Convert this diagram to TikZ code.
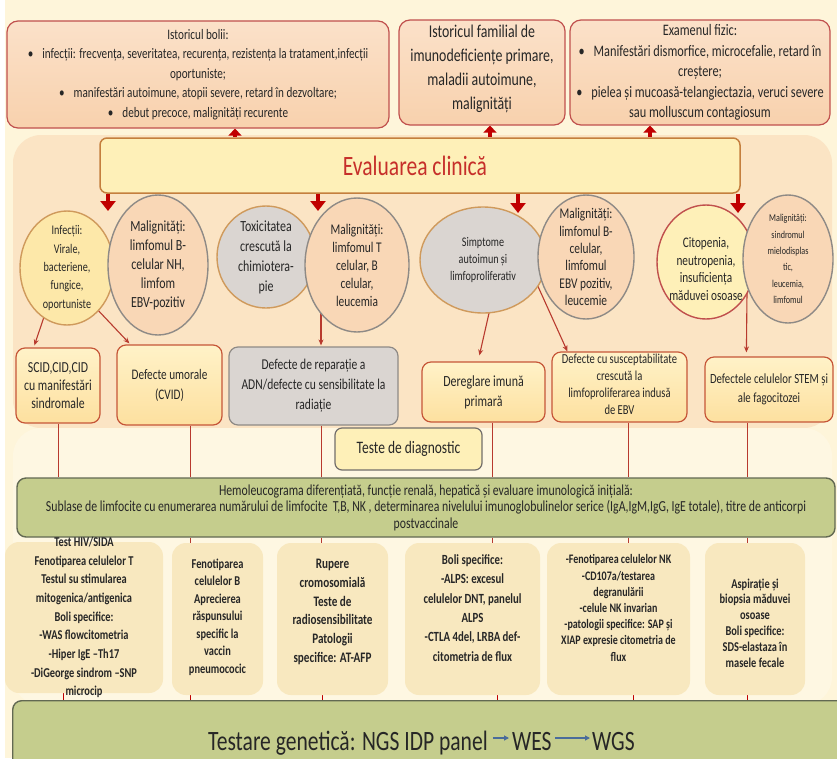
\documentclass[tikz,border=0pt]{standalone}
\usepackage{fontspec}
\setmainfont{Carlito}[FakeStretch=0.77]
\usetikzlibrary{shapes.geometric,arrows.meta,calc}
\pgfdeclarelayer{bg}
\pgfdeclarelayer{links}
\pgfsetlayers{bg,links,main}

\definecolor{cream}{HTML}{FEF5DA}
\definecolor{peachbg}{HTML}{FBE4C4}
\definecolor{lowbg}{HTML}{FEF7E2}
\definecolor{topfill}{HTML}{F9D7B6}
\definecolor{toptop}{HTML}{FBE1C9}
\definecolor{topbot}{HTML}{F8D1AD}
\definecolor{topline}{HTML}{C0504D}
\definecolor{evalfill}{HTML}{FEF0B8}
\definecolor{evalline}{HTML}{C47F3E}
\definecolor{evaltext}{HTML}{C62F2A}
\definecolor{arrowred}{HTML}{C00000}
\definecolor{linkred}{HTML}{B83A2E}
\definecolor{yelfill}{HTML}{FDE8A9}
\definecolor{deftop}{HTML}{FFF2C8}
\definecolor{defbot}{HTML}{FDE09F}
\definecolor{tanline}{HTML}{CF9A5C}
\definecolor{greyfill}{HTML}{DAD5D1}
\definecolor{greyline}{HTML}{8E8A86}
\definecolor{defline}{HTML}{C65638}
\definecolor{olive}{HTML}{C5CD8D}
\definecolor{oliveline}{HTML}{626952}
\definecolor{colfill}{HTML}{F8E8BF}
\definecolor{ink}{HTML}{262626}
\definecolor{seqblue}{HTML}{4A6C9B}

\newcommand\fsz[2]{\fontsize{#1}{#2}\selectfont}

\begin{document}
\begin{tikzpicture}[x=1pt,y=-1pt,
  txt/.style={text=ink, align=center, inner sep=0pt},
  topbox/.style={draw=topline, top color=toptop, bottom color=topbot, line width=1.2pt, rounded corners=11pt, inner sep=0pt},
  evalbox/.style={draw=evalline, fill=evalfill, line width=1.5pt, rounded corners=7pt, inner sep=0pt},
  ell/.style={ellipse, inner sep=0pt, line width=1.4pt},
  ellyel/.style={ell, draw=tanline, fill=yelfill},
  ellpeach/.style={ell, draw=greyline, fill=topfill},
  ellgrey/.style={ell, draw=tanline, fill=greyfill},
  ellred/.style={ell, draw=topline, fill=evalfill},
  defbox/.style={draw=defline, top color=deftop, bottom color=defbot, line width=1.2pt, rounded corners=9pt, inner sep=0pt},
  defgrey/.style={draw=greyline, fill=greyfill, line width=1.2pt, rounded corners=9pt, inner sep=0pt},
  testbox/.style={draw=greyline!80!black, fill=evalfill, line width=1.2pt, rounded corners=7pt, inner sep=0pt},
  greenbox/.style={draw=oliveline, fill=olive, line width=1.4pt, rounded corners=9pt, inner sep=0pt},
  colbox/.style={fill=colfill, rounded corners=14pt, inner sep=0pt},
  bigup/.style={draw=arrowred, line width=4pt, -{Triangle[width=13pt,length=7pt]}},
  bigdown/.style={draw=arrowred, line width=4.5pt, -{Triangle[width=15pt,length=10pt]}},
  link/.style={draw=linkred, line width=1.1pt, -{Stealth[length=6pt,width=5pt]}},
  rail/.style={draw=linkred, line width=1pt},
  tick/.style={draw=arrowred, line width=1pt, -{Triangle[width=5pt,length=6pt]}},
  seq/.style={draw=seqblue, line width=1.1pt, -{Triangle[width=5pt,length=5pt]}}
]
\useasboundingbox (0,0) rectangle (837,758);

% ---------- anamnesis and examination ----------
\node[topbox, minimum width=382pt, minimum height=107pt,
  label={[txt, font=\fsz{14.5}{19.5}]center:{Istoricul bolii:\\\textbullet\hspace{9pt}infecții: frecvența, severitatea, recurența, rezistența la tratament,infecții\\oportuniste;\\\textbullet\hspace{9pt}manifestări autoimune, atopii severe, retard în dezvoltare;\\\textbullet\hspace{9pt}debut precoce, malignități recurente}}]
  (top1) at (198,74.5) {};
\node[topbox, minimum width=166pt, minimum height=105pt,
  label={[txt, font=\fsz{18}{24}, yshift=4pt]center:{Istoricul familial de\\imunodeficiențe primare,\\maladii autoimune,\\malignități}}]
  (top2) at (482,72.5) {};
\node[topbox, minimum width=260pt, minimum height=105pt,
  label={[txt, font=\fsz{16}{20.5}]center:{Examenul fizic:\\\textbullet\hspace{9pt}Manifestări dismorfice, microcefalie, retard în\\creștere;\\\textbullet\hspace{9pt}pielea și mucoasă-telangiectazia, veruci severe\\sau molluscum contagiosum}}]
  (top3) at (700,72.5) {};

% ---------- clinical evaluation ----------
\node[evalbox, minimum width=640pt, minimum height=55pt,
  label={[txt, text=evaltext, font=\fsz{28}{30}, xshift=-5pt]center:{Evaluarea clinică}}]
  (eval) at (420,165.5) {};

% ---------- clinical presentations ----------
\node[ellyel, minimum width=94pt, minimum height=114pt,
  label={[txt, font=\fsz{13.2}{18.3}]center:{Infecții:\\Virale,\\bacteriene,\\fungice,\\oportuniste}}]
  (e1) at (67,268) {};
\node[ellpeach, minimum width=100pt, minimum height=140pt,
  label={[txt, font=\fsz{15.5}{19}]center:{Malignități:\\limfomul B-\\celular NH,\\limfom\\EBV-pozitiv}}]
  (e2) at (158,265) {};
\node[ellgrey, minimum width=98pt, minimum height=102pt,
  label={[txt, font=\fsz{15.5}{20}]center:{Toxicitatea\\crescută la\\chimiotera-\\pie}}]
  (e3) at (266,257) {};
\node[ellpeach, minimum width=104pt, minimum height=134pt,
  label={[txt, font=\fsz{14.8}{18}]center:{Malignități:\\limfomul T\\celular, B\\celular,\\leucemia}}]
  (e4) at (357,265) {};
\node[ellgrey, minimum width=126pt, minimum height=106pt,
  label={[txt, font=\fsz{13.2}{17}]center:{Simptome\\autoimun și\\limfoproliferativ}}]
  (e5) at (483,260) {};
\node[ellpeach, minimum width=96pt, minimum height=124pt,
  label={[txt, font=\fsz{14.8}{17.3}]center:{Malignități:\\limfomul B-\\celular,\\limfomul\\EBV pozitiv,\\leucemie}}]
  (e6) at (586,257) {};
\node[ellred, minimum width=98pt, minimum height=114pt,
  label={[txt, font=\fsz{14.6}{17.5}, yshift=-7pt]center:{Citopenia,\\neutropenia,\\insuficiența\\măduvei osoase}}]
  (e7) at (706,262) {};
\node[ellpeach, minimum width=90pt, minimum height=128pt,
  label={[txt, font=\fsz{10.5}{16.3}]center:{Malignități:\\sindromul\\mielodisplas\\tic,\\leucemia,\\limfomul}}]
  (e8) at (788,259) {};

% ---------- defect groups ----------
\node[defbox, minimum width=84pt, minimum height=75pt,
  label={[txt, font=\fsz{15.3}{18}]center:{SCID,CID,CID\\cu manifestări\\sindromale}}]
  (d1) at (58,385.5) {};
\node[defbox, minimum width=105pt, minimum height=80pt,
  label={[txt, font=\fsz{14.6}{20}]center:{Defecte umorale\\(CVID)}}]
  (d2) at (169.5,385) {};
\node[defgrey, minimum width=169pt, minimum height=78pt,
  label={[txt, font=\fsz{15}{20}]center:{Defecte de reparație a\\ADN/defecte cu sensibilitate la\\radiație}}]
  (d3) at (313.5,386) {};
\node[defbox, minimum width=123pt, minimum height=60pt,
  label={[txt, font=\fsz{15.5}{20}]center:{Dereglare imună\\primară}}]
  (d4) at (483.5,392) {};
\node[defbox, minimum width=135pt, minimum height=70pt,
  label={[txt, font=\fsz{13.7}{17}, yshift=3pt]center:{Defecte cu susceptabilitate\\crescută la\\limfoproliferarea indusă\\de EBV}}]
  (d5) at (619.5,387) {};
\node[defbox, minimum width=128pt, minimum height=65pt,
  label={[txt, font=\fsz{14}{19}]center:{Defectele celulelor STEM și\\ale fagocitozei}}]
  (d6) at (769,389.5) {};

% ---------- diagnostic tests ----------
\node[testbox, minimum width=147pt, minimum height=42pt,
  label={[txt, font=\fsz{17.5}{20}]center:{Teste de diagnostic}}]
  (teste) at (408.5,449) {};
\node[greenbox, minimum width=818pt, minimum height=59pt,
  label={[txt, font=\fsz{15.3}{16.5}]center:{Hemoleucograma diferențiată, funcție renală, hepatică și evaluare imunologică inițială:\\Sublase de limfocite cu enumerarea numărului de limfocite~ T,B, NK , determinarea nivelului imunoglobulinelor serice (IgA,IgM,IgG, IgE totale), titre de anticorpi\\postvaccinale}}]
  (green) at (426,507.5) {};

\node[colbox, minimum width=158pt, minimum height=151pt,
  label={[txt, font=\bfseries\fsz{13.5}{18.7}]center:{Test HIV/SIDA\\Fenotiparea celulelor T\\Testul su stimularea\\mitogenica/antigenica\\Boli specifice:\\-WAS flowcitometria\\-Hiper IgE –Th17\\-DiGeorge sindrom –SNP\\microcip}}]
  (b1) at (84,617.5) {};
\node[colbox, minimum width=91pt, minimum height=152pt,
  label={[txt, font=\bfseries\fsz{13.5}{17.5}, yshift=2pt]center:{Fenotiparea\\celulelor B\\Aprecierea\\răspunsului\\specific la\\vaccin\\pneumococic}}]
  (b2) at (217.5,619) {};
\node[colbox, minimum width=111pt, minimum height=152pt,
  label={[txt, font=\bfseries\fsz{14.5}{18.7}, yshift=7pt]center:{Rupere\\cromosomială\\Teste de\\radiosensibilitate\\Patologii\\specifice: AT-AFP}}]
  (b3) at (332.5,619) {};
\node[colbox, minimum width=135pt, minimum height=152pt,
  label={[txt, font=\bfseries\fsz{14}{19.3}, yshift=11pt]center:{Boli specifice:\\-ALPS: excesul\\celulelor DNT, panelul\\ALPS\\-CTLA 4del, LRBA def-\\citometria de flux}}]
  (b4) at (472.5,619) {};
\node[colbox, minimum width=143pt, minimum height=152pt,
  label={[txt, font=\bfseries\fsz{13}{16.2}, yshift=11pt]center:{-Fenotiparea celulelor NK\\-CD107a/testarea\\degranulării\\-celule NK invarian\\-patologii specifice: SAP și\\XIAP expresie citometria de\\flux}}]
  (b5) at (618.5,619) {};
\node[colbox, minimum width=100pt, minimum height=152pt,
  label={[txt, font=\bfseries\fsz{13.5}{15.8}, yshift=-4pt]center:{Aspirație și\\biopsia măduvei\\osoase\\Boli specifice:\\SDS-elastaza în\\masele fecale}}]
  (b6) at (755,619) {};

% ---------- genetic testing ----------
\node[greenbox, minimum width=835pt, minimum height=75pt, anchor=north west] (bar) at (12,700) {};
\node[txt, font=\fsz{28}{30}, anchor=base west] (g1) at (208,750) {Testare genetică: NGS IDP panel};
\node[txt, font=\fsz{28}{30}, anchor=base west] (g2) at (512,750) {WES};
\node[txt, font=\fsz{28}{30}, anchor=base west] (g3) at (592,750) {WGS};
\draw[seq] ($(g1.base east)+(5,-12)$) -- ($(g2.base west)+(-3,-12)$);
\draw[seq] ($(g2.base east)+(3,-12)$) -- ($(g3.base west)+(-2,-12)$);

% ---------- connectors ----------
\begin{pgfonlayer}{links}
  \coordinate (u1) at (235,0); \coordinate (u2) at (490,0); \coordinate (u3) at (650,0);
  \draw[bigup] (eval.north -| u1) -- (top1.south -| u1);
  \draw[bigup] (eval.north -| u2) -- (top2.south -| u2);
  \draw[bigup] (eval.north -| u3) -- (top3.south -| u3);

  \coordinate (a1) at (108,211); \coordinate (a2) at (318,211);
  \coordinate (a3) at (518,213); \coordinate (a4) at (738,213);
  \draw[bigdown] (eval.south -| a1) -- (a1);
  \draw[bigdown] (eval.south -| a2) -- (a2);
  \draw[bigdown] (eval.south -| a3) -- (a3);
  \draw[bigdown] (eval.south -| a4) -- (a4);

  \draw[link] ($(e1.center)+(-18,34)$) -- ($(d1.north west)+(19,-2)$);
  \draw[link] ($(e1.center)+(28,39)$) -- ($(d2.north west)+(13,-1)$);
  \draw[link] ($(e4.center)+(-36,35)$) -- ($(d3.north)+(7.5,-1)$);
  \draw[link] ($(e5.center)+(9,40)$) -- ($(d4.north west)+(58,-6)$);
  \draw[link] ($(e5.center)+(53,22)$) -- ($(d5.north west)+(16,0)$);
  \draw[link] ($(e7.center)+(41,30)$) -- ($(d6.north west)+(42,-4)$);

  \coordinate (k1) at (58,0);  \coordinate (k2) at (190,0); \coordinate (k3) at (321,0);
  \coordinate (k4) at (492,0); \coordinate (k5) at (628,0); \coordinate (k6) at (747,0);
  \draw[rail] (d1.south -| k1) -- (green.north -| k1);
  \draw[rail] (d2.south -| k2) -- (green.north -| k2);
  \draw[rail] (d3.south -| k3) -- (green.north -| k3);
  \draw[rail] (d4.south -| k4) -- (green.north -| k4);
  \draw[rail] (d5.south -| k5) -- (green.north -| k5);
  \draw[rail] (d6.south -| k6) -- (green.north -| k6);
  \draw[rail] (green.south -| k2) -- (b2.north -| k2);
  \draw[rail] (green.south -| k3) -- (b3.north -| k3);
  \draw[rail] (green.south -| k4) -- (b4.north -| k4);
  \draw[rail] (green.south -| k5) -- (b5.north -| k5);
  \draw[rail] (green.south -| k6) -- (b6.north -| k6);

  \coordinate (m1) at (63,0);  \coordinate (m2) at (190,0); \coordinate (m3) at (322,0);
  \coordinate (m4) at (497,0); \coordinate (m5) at (633,0); \coordinate (m6) at (747,0);
  \foreach \i in {1,...,6} {
    \draw[tick] (b\i.south -| m\i) -- ($(bar.north -| m\i)+(0,8)$);
  }
\end{pgfonlayer}

% ---------- backdrop ----------
\begin{pgfonlayer}{bg}
  \fill[white] (0,0) rectangle (837,758);
  \fill[cream] (5,0) rectangle (837,758);
  \fill[peachbg, rounded corners=28pt] (13,135) rectangle (832,428);
  \fill[lowbg, rounded corners=28pt] (13,428) rectangle (832,705);
\end{pgfonlayer}
\end{tikzpicture}
\end{document}
